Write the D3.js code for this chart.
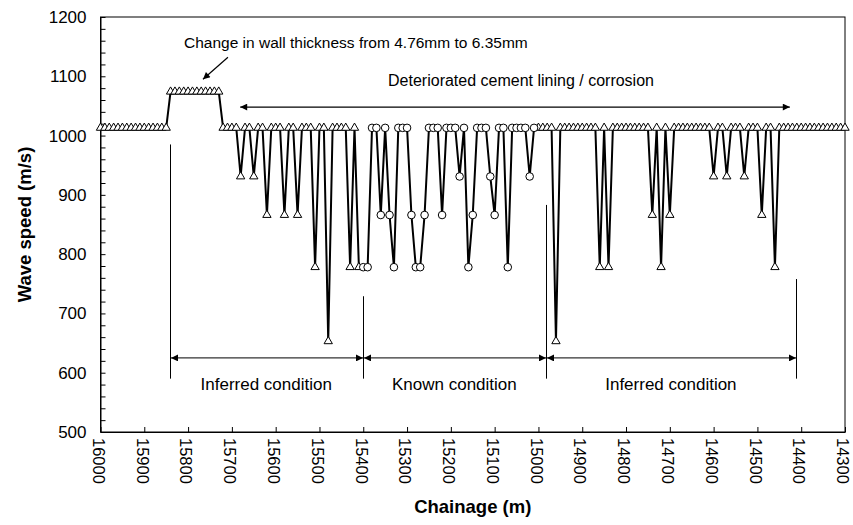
<!DOCTYPE html>
<html><head><meta charset="utf-8">
<script src="https://cdn.jsdelivr.net/npm/d3@7"></script>
<style>
body{margin:0;background:#fff}
svg{display:block}
text{font-family:Arial,"Liberation Sans",sans-serif;fill:#000}
</style>
</head><body>
<svg id="chart" width="853" height="525"></svg>
<script>
// ---- data (wave speed every 10 m of chainage) ----
const chainageStart = 16000;
const chainageStep = -10;
// 16000 .. 15410 (inferred, triangles)
const inferredUpstream = [
 1013,1013,1013,1013,1013,1013,1013,1013,1013,1013,1013,1013,1013,1013,1013,1013,
 1074,1074,1074,1074,1074,1074,1074,1074,1074,1074,1074,1074,
 1013,1013,1013,1013,931,1013,1013,931,1013,1013,866,1013,1013,1013,866,1013,1013,866,
 1013,1013,1013,778,1013,1013,653,1013,1013,1013,1013,778,1013,778
];
// 15400 .. 15010 (known, circles)
const knownSection = [
 778,778,1013,1013,866,1013,866,778,1013,1013,1013,866,778,778,866,1013,1013,1013,866,1013,
 1013,1013,931,1013,778,866,1013,1013,1013,931,866,1013,1013,778,1013,1013,1013,1013,931,1013
];
// 15000 .. 14300 (inferred, triangles)
const inferredDownstream = [
 1013,1013,1013,1013,653,1013,1013,1013,1013,1013,1013,1013,1013,1013,778,1013,778,
 1013,1013,1013,1013,1013,1013,1013,1013,1013,866,1013,778,1013,866,
 1013,1013,1013,1013,1013,1013,1013,1013,1013,931,1013,1013,931,1013,1013,1013,931,
 1013,1013,1013,866,1013,1013,778,
 1013,1013,1013,1013,1013,1013,1013,1013,1013,1013,1013,1013,1013,1013,1013,1013
];
const xTickValues = [16000,15900,15800,15700,15600,15500,15400,15300,15200,15100,15000,14900,14800,14700,14600,14500,14400,14300];
const yTickValues = [500,600,700,800,900,1000,1100,1200];

// annotation anchors (data units)
const conditionBounds = [15842, 15401, 14983, 14412];
const conditionLabels = ["Inferred condition", "Known condition", "Inferred condition"];
const boundTops = [985, 729, 883, 758];

// ---- build ----
const svg = d3.select("#chart");
const x = d3.scaleLinear().domain([16000, 14300]).range([100.5, 845]);
const y = d3.scaleLinear().domain([500, 1200]).range([432, 17]);

const points = [];
[[inferredUpstream,"tri"],[knownSection,"circ"],[inferredDownstream,"tri"]].forEach(([arr,type])=>{
  arr.forEach(v=>{
    points.push({c: chainageStart + points.length*chainageStep, v, type});
  });
});

const defs = svg.append("defs");
defs.append("marker").attr("id","ah").attr("viewBox","0 0 10 10").attr("refX",10).attr("refY",5)
  .attr("markerWidth",9).attr("markerHeight",7).attr("markerUnits","userSpaceOnUse").attr("orient","auto-start-reverse")
  .append("path").attr("d","M0,0L10,5L0,10z").attr("fill","#000");

// frame
svg.append("rect").attr("x",x(16000)).attr("y",y(1200)).attr("width",x(14300)-x(16000)).attr("height",y(500)-y(1200))
  .attr("fill","none").attr("stroke","#000").attr("stroke-width",1);

// y axis
const yAxis = d3.axisLeft(y).tickValues(d3.range(500,1201,20)).tickSizeInner(-5).tickSizeOuter(0).tickPadding(14)
  .tickFormat(d => yTickValues.includes(d) ? d : "");
const gy = svg.append("g").attr("transform",`translate(${x(16000)},0)`).call(yAxis);
gy.selectAll("text").style("font-size","17px");
gy.select(".domain").attr("stroke","#000");

// x axis
const xAxis = d3.axisBottom(x).tickValues(xTickValues).tickSizeInner(-5).tickSizeOuter(0).tickFormat(d3.format("d"));
const gx = svg.append("g").attr("transform",`translate(0,${y(500)})`).call(xAxis);
gx.selectAll("text").attr("transform","rotate(90)").attr("x",6).attr("y",0).attr("dy","0.5em")
  .style("text-anchor","start").style("font-size","16.5px");

// titles
svg.append("text").attr("transform",`translate(31,${(y(1200)+y(500))/2}) rotate(-90)`).attr("text-anchor","middle")
  .style("font-size","18.5px").style("font-weight","bold").text("Wave speed (m/s)");
svg.append("text").attr("x",(x(16000)+x(14300))/2).attr("y",513).attr("text-anchor","middle")
  .style("font-size","18.5px").style("font-weight","bold").text("Chainage (m)");

// data line
const line = d3.line().x(d=>x(d.c)).y(d=>y(d.v));
svg.append("path").datum(points).attr("d",line).attr("fill","none").attr("stroke","#000").attr("stroke-width",2).attr("stroke-linejoin","round");

// markers
const tri = d3.symbol().type(d3.symbolTriangle).size(30);
svg.append("g").selectAll("path").data(points.filter(d=>d.type==="tri")).join("path")
  .attr("d",tri).attr("transform",d=>`translate(${x(d.c)},${y(d.v)})`)
  .attr("fill","#fff").attr("stroke","#000").attr("stroke-width",1);
svg.append("g").selectAll("circle").data(points.filter(d=>d.type==="circ")).join("circle")
  .attr("cx",d=>x(d.c)).attr("cy",d=>y(d.v)).attr("r",3.8)
  .attr("fill","#fff").attr("stroke","#000").attr("stroke-width",1);

// annotation: wall thickness
svg.append("text").attr("x",184).attr("y",48).style("font-size","15.5px").text("Change in wall thickness from 4.76mm to 6.35mm");
svg.append("line").attr("x1",x(15709)).attr("y1",y(1132)).attr("x2",x(15766)).attr("y2",y(1095))
  .attr("stroke","#000").attr("stroke-width",1.2).attr("marker-end","url(#ah)");

// annotation: deteriorated lining
svg.append("text").attr("x",521).attr("y",86).attr("text-anchor","middle").style("font-size","16px")
  .text("Deteriorated cement lining / corrosion");
svg.append("line").attr("x1",x(15681)).attr("x2",x(14426)).attr("y1",y(1048)).attr("y2",y(1048))
  .attr("stroke","#000").attr("stroke-width",1.2).attr("marker-start","url(#ah)").attr("marker-end","url(#ah)");

// condition boundaries
conditionBounds.forEach((c,i)=>{
  svg.append("line").attr("x1",Math.round(x(c))+0.5).attr("x2",Math.round(x(c))+0.5).attr("y1",y(boundTops[i])).attr("y2",y(590))
    .attr("stroke","#000").attr("stroke-width",1);
});
conditionLabels.forEach((t,i)=>{
  const a = conditionBounds[i], b = conditionBounds[i+1];
  svg.append("line").attr("x1",Math.round(x(a))+1).attr("x2",Math.round(x(b))).attr("y1",y(625)).attr("y2",y(625))
    .attr("stroke","#333").attr("stroke-width",1.2).attr("marker-start","url(#ah)").attr("marker-end","url(#ah)");
  svg.append("text").attr("x",(x(a)+x(b))/2).attr("y",390).attr("text-anchor","middle").style("font-size","17px").text(t);
});
</script>
</body></html>
